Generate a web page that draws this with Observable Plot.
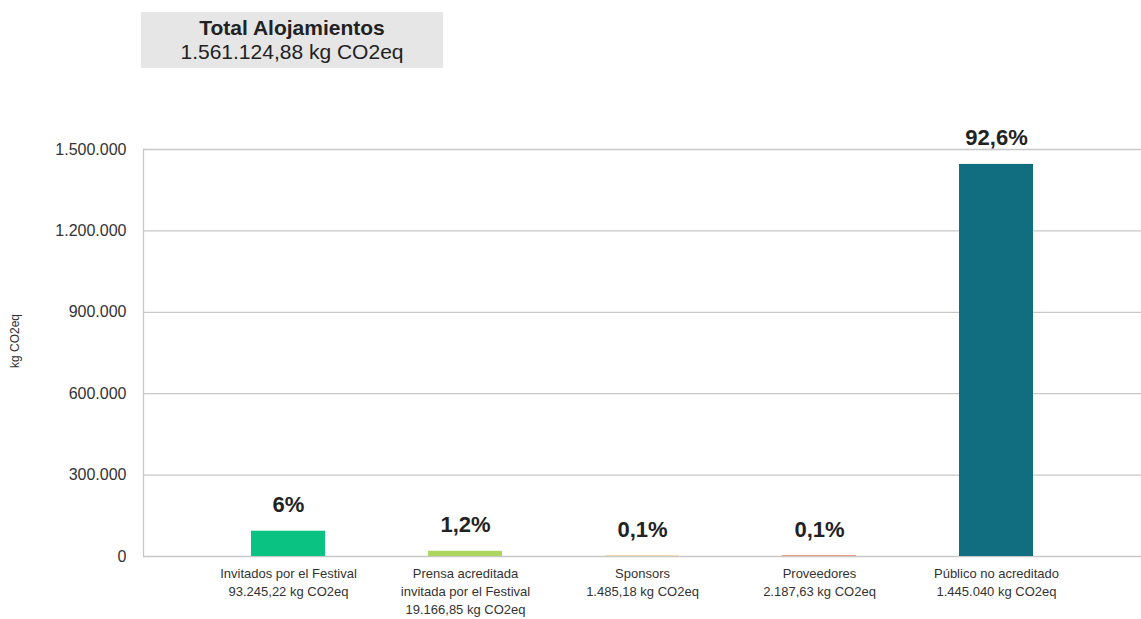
<!DOCTYPE html>
<html>
<head>
<meta charset="utf-8">
<script src="https://cdn.jsdelivr.net/npm/d3@7"></script>
<script src="https://cdn.jsdelivr.net/npm/@observablehq/plot@0.6"></script>
<style>
  html, body { margin: 0; padding: 0; background: #fff; overflow: hidden; }
  #wrap { position: relative; width: 1141px; height: 619px; font-family: "Liberation Sans", Arial, sans-serif; }
  #titlebox { position: absolute; left: 141px; top: 12px; width: 302px; height: 56px; background: #e6e6e6; color: #222; text-align: center; font-size: 21px; line-height: 24px; padding-top: 4px; box-sizing: border-box; }
  #titlebox b { font-weight: bold; }
  #chart { position: absolute; left: 0; top: 80px; }
</style>
</head>
<body>
<div id="wrap">
  <div id="titlebox"><b>Total Alojamientos</b><br>1.561.124,88 kg CO2eq</div>
  <div id="chart"></div>
</div>
<script>
const categories = ["Invitados por el Festival", "Prensa acreditada invitada por el Festival", "Sponsors", "Proveedores", "Público no acreditado"];
const categoryLines = ["Invitados por el Festival", "Prensa acreditada\ninvitada por el Festival", "Sponsors", "Proveedores", "Público no acreditado"];
const valueLabels = ["93.245,22 kg CO2eq", "19.166,85 kg CO2eq", "1.485,18 kg CO2eq", "2.187,63 kg CO2eq", "1.445.040 kg CO2eq"];
const values = [93245.22, 19166.85, 1485.18, 2187.63, 1445040];
const percents = ["6%", "1,2%", "0,1%", "0,1%", "92,6%"];
const yTicks = [0, 300000, 600000, 900000, 1200000, 1500000];
const yLabel = ["kg CO2eq"];
const palette = ["#0ac383", "#acd65e", "#f5b94a", "#e66a3c", "#116e80"];

const data = categories.map((c, i) => ({cat: c, value: values[i], pct: percents[i]}));
const tickText = new Map(categories.map((c, i) => [c, categoryLines[i] + "\n" + valueLabels[i]]));
const loc = d3.formatLocale({decimal: ",", thousands: ".", grouping: [3], currency: ["", "€"]});
const fmt = loc.format(",.0f");

const chart = Plot.plot({
  width: 1141,
  height: 539,
  marginLeft: 143,
  marginRight: 0,
  marginTop: 69,
  marginBottom: 63,
  style: {fontFamily: "'Liberation Sans', Arial, sans-serif", color: "#333", background: "#fff"},
  x: {domain: categories, paddingInner: 0.584, paddingOuter: 0.596},
  y: {domain: [0, 1500000]},
  color: {domain: categories, range: palette},
  marks: [
    Plot.gridY(yTicks, {stroke: "#c8c8c8", strokeOpacity: 1, strokeWidth: 1.3}),
    Plot.frame({anchor: "left", stroke: "#c8c8c8", strokeWidth: 1.3}),
    Plot.barY(data, {x: "cat", y: "value", fill: "cat"}),
    Plot.text(data, {x: "cat", y: "value", text: "pct", dy: -26, lineAnchor: "middle", fontSize: 22, fontWeight: "bold", fill: "#222"}),
    Plot.axisY(yTicks, {tickSize: 0, tickPadding: 17, tickFormat: fmt, fontSize: 16, fill: "#333", label: null}),
    Plot.text(yLabel, {frameAnchor: "left", rotate: -90, dx: -128, dy: 15, fontSize: 12, fill: "#333"}),
    Plot.axisX({tickSize: 0, tickPadding: 9, tickFormat: d => tickText.get(d), fontSize: 13, lineHeight: 1.38, fill: "#333",
      fontFamily: "'Liberation Sans Narrow', 'Liberation Sans', Arial, sans-serif", label: null})
  ]
});
document.getElementById("chart").appendChild(chart);
</script>
</body>
</html>
